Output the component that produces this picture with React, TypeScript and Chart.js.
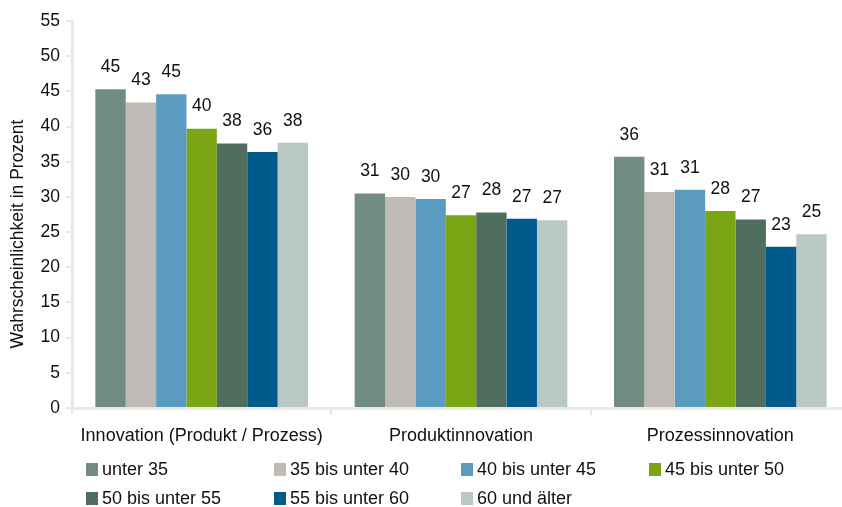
import React, { useEffect, useRef } from "react";
import { Chart, registerables } from "chart.js";

Chart.register(...registerables);

const categories = ["Innovation (Produkt / Prozess)", "Produktinnovation", "Prozessinnovation"];
const seriesNames = [
  "unter 35",
  "35 bis unter 40",
  "40 bis unter 45",
  "45 bis unter 50",
  "50 bis unter 55",
  "55 bis unter 60",
  "60 und älter",
];
const unter35 = [45.3, 30.5, 35.7];
const b35bis40 = [43.4, 30.0, 30.7];
const b40bis45 = [44.6, 29.7, 31.0];
const b45bis50 = [39.7, 27.4, 28.0];
const b50bis55 = [37.6, 27.8, 26.8];
const b55bis60 = [36.4, 26.9, 22.9];
const ab60 = [37.7, 26.7, 24.7];
const seriesValues = [unter35, b35bis40, b40bis45, b45bis50, b50bis55, b55bis60, ab60];
const seriesColors = ["#728c82", "#bfbab6", "#5b9bbf", "#7aa515", "#506e60", "#005a8c", "#b9c8c5"];
const yTitle = "Wahrscheinlichkeit in Prozent";

const FONT = "'Liberation Sans', Arial, sans-serif";
const TEXT = "#111111";
const AXIS = "#ece7e2";

const valueLabels = {
  id: "valueLabels",
  afterDatasetsDraw(chart: any) {
    const ctx = chart.ctx;
    ctx.save();
    ctx.font = `17.5px ${FONT}`;
    ctx.fillStyle = TEXT;
    ctx.textAlign = "center";
    ctx.textBaseline = "middle";
    chart.data.datasets.forEach((ds: any, i: number) => {
      const meta = chart.getDatasetMeta(i);
      meta.data.forEach((el: any, j: number) => {
        const v = ds.data[j];
        ctx.fillText(String(Math.round(v)), el.x, el.y - 22);
      });
    });
    ctx.restore();
  },
};

const yTitlePlugin = {
  id: "yTitlePlugin",
  afterDraw(chart: any) {
    const ctx = chart.ctx;
    ctx.save();
    ctx.font = `17.5px ${FONT}`;
    ctx.fillStyle = TEXT;
    ctx.textAlign = "center";
    ctx.textBaseline = "middle";
    ctx.translate(18, 234);
    ctx.rotate(-Math.PI / 2);
    ctx.fillText(yTitle, 0, 0);
    ctx.restore();
  },
};

const legendLayout = [
  { left: 86, top: 463 },
  { left: 274, top: 463 },
  { left: 461, top: 463 },
  { left: 649, top: 463 },
  { left: 86, top: 492 },
  { left: 274, top: 492 },
  { left: 461, top: 492 },
];

export default function App() {
  const ref = useRef<HTMLCanvasElement | null>(null);

  useEffect(() => {
    if (!ref.current) return;
    const chart = new Chart(ref.current, {
      type: "bar",
      data: {
        labels: categories,
        datasets: seriesNames.map((name, i) => ({
          label: name,
          data: seriesValues[i],
          backgroundColor: seriesColors[i],
          borderWidth: 0,
          categoryPercentage: 0.82,
          barPercentage: 1,
        })),
      },
      options: {
        responsive: false,
        animation: false,
        devicePixelRatio: 1,
        layout: { padding: { left: 0, right: 2, top: 21, bottom: 55 } },
        plugins: {
          legend: { display: false },
          tooltip: { enabled: false },
        },
        scales: {
          x: {
            afterFit: (s: any) => {
              s.height = 44;
            },
            grid: {
              offset: true,
              drawOnChartArea: false,
              drawTicks: true,
              tickLength: 7,
              color: AXIS,
              lineWidth: 2,
            },
            border: { color: AXIS, width: 3 },
            ticks: {
              color: TEXT,
              padding: 10,
              font: { family: FONT, size: 18 },
              maxRotation: 0,
            },
          },
          y: {
            min: 0,
            max: 55,
            afterFit: (s: any) => {
              s.width = 72;
            },
            grid: {
              drawOnChartArea: false,
              drawTicks: true,
              tickLength: 6,
              color: AXIS,
              lineWidth: 2,
            },
            border: { color: AXIS, width: 3 },
            ticks: {
              stepSize: 5,
              color: TEXT,
              padding: 6,
              font: { family: FONT, size: 17.5 },
            },
          },
        },
      },
      plugins: [valueLabels, yTitlePlugin],
    });
    return () => chart.destroy();
  }, []);

  return (
    <div
      style={{
        position: "fixed",
        left: 0,
        top: 0,
        width: 842,
        height: 507,
        overflow: "hidden",
        background: "#ffffff",
      }}
    >
      <canvas ref={ref} width={852} height={507} style={{ width: 852, height: 507, display: "block" }} />
      {seriesNames.map((name, i) => (
        <div
          key={name}
          style={{
            position: "absolute",
            left: legendLayout[i].left,
            top: legendLayout[i].top,
            height: 13,
            display: "flex",
            alignItems: "center",
            fontFamily: FONT,
            fontSize: 18,
            color: TEXT,
            whiteSpace: "nowrap",
          }}
        >
          <span
            style={{
              display: "inline-block",
              width: 12,
              height: 13,
              background: seriesColors[i],
              marginRight: 4,
            }}
          />
          <span>{name}</span>
        </div>
      ))}
    </div>
  );
}
